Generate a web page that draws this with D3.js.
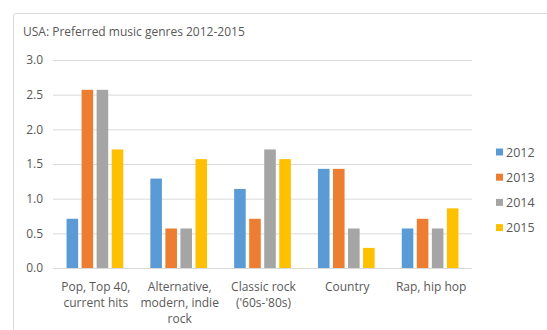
<!DOCTYPE html>
<html>
<head>
<meta charset="utf-8">
<script src="https://cdn.jsdelivr.net/npm/d3@7"></script>
<style>
  html, body { margin: 0; padding: 0; background: #fff; }
  svg { display: block; }
  text { font-family: "Open Sans", "Liberation Sans", sans-serif; fill: #595959; }
</style>
</head>
<body>
<svg id="chart" width="547" height="330"></svg>
<script>
// Genre categories (label lines) and yearly series values
const categories = [
  ["Pop, Top 40,", "current hits"],
  ["Alternative,", "modern, indie", "rock"],
  ["Classic rock", "('60s-'80s)"],
  ["Country"],
  ["Rap, hip hop"]
];
const years = ["2012", "2013", "2014", "2015"];
const values2012 = [0.71, 1.29, 1.14, 1.43, 0.57];
const values2013 = [2.57, 0.57, 0.71, 1.43, 0.71];
const values2014 = [2.57, 0.57, 1.71, 0.57, 0.57];
const values2015 = [1.71, 1.57, 1.57, 0.29, 0.86];
const yTicks = [0, 0.5, 1.0, 1.5, 2.0, 2.5, 3.0];
const title = "USA: Preferred music genres 2012-2015";

const series = [values2012, values2013, values2014, values2015];
const colors = ["#5B9BD5", "#ED7D31", "#A5A5A5", "#FFC000"];

const svg = d3.select("#chart");

// Outer chart frame
svg.append("rect")
  .attr("x", 13.5).attr("y", 13.5)
  .attr("width", 600).attr("height", 400)
  .attr("rx", 2)
  .attr("fill", "#fff")
  .attr("stroke", "#d9d9d9");

svg.append("text")
  .attr("x", 23).attr("y", 36)
  .attr("font-size", 12)
  .text(title);

const plot = { left: 53, right: 472, top: 60, bottom: 268 };

const y = d3.scaleLinear().domain([0, 3]).range([plot.bottom, plot.top]);
const x0 = d3.scaleBand()
  .domain(d3.range(categories.length))
  .range([plot.left, plot.right])
  .padding(0);
const x1 = d3.scaleBand()
  .domain(years)
  .range([0, x0.bandwidth()])
  .paddingInner(0.23)
  .paddingOuter(0.9);

// Gridlines and value axis
const yAxis = d3.axisLeft(y)
  .tickValues(yTicks)
  .tickFormat(d3.format(".1f"))
  .tickSize(-(plot.right - plot.left))
  .tickPadding(10);

const gy = svg.append("g")
  .attr("transform", `translate(${plot.left},0)`)
  .call(yAxis);
gy.select(".domain").remove();
gy.selectAll(".tick line").attr("stroke", "#d9d9d9").attr("stroke-width", 1);
gy.selectAll(".tick text")
  .attr("font-size", 12)
  .attr("fill", "#595959")
  .style("font-family", '"Open Sans", "Liberation Sans", sans-serif');

// Bars
const groups = svg.append("g").selectAll("g")
  .data(categories.map((c, i) => i))
  .join("g")
  .attr("transform", i => `translate(${x0(i)},0)`);

groups.selectAll("rect")
  .data(i => years.map((yr, s) => ({ yr, v: series[s][i], c: colors[s] })))
  .join("rect")
  .attr("x", d => x1(d.yr))
  .attr("width", x1.bandwidth())
  .attr("y", d => y(d.v))
  .attr("height", d => y(0) - y(d.v))
  .attr("fill", d => d.c);

// Category axis baseline
svg.append("line")
  .attr("x1", plot.left).attr("x2", plot.right)
  .attr("y1", y(0) + 0.5).attr("y2", y(0) + 0.5)
  .attr("stroke", "#d9d9d9");

// Category labels
const xl = svg.append("g").selectAll("text")
  .data(categories)
  .join("text")
  .attr("x", (c, i) => x0(i) + x0.bandwidth() / 2 + 1)
  .attr("y", 291)
  .attr("text-anchor", "middle")
  .attr("font-size", 12);
xl.selectAll("tspan")
  .data(c => c)
  .join("tspan")
  .attr("x", function () { return d3.select(this.parentNode).attr("x"); })
  .attr("dy", (d, i) => i === 0 ? 0 : 16)
  .text(d => d);

// Legend
const legend = svg.append("g").selectAll("g")
  .data(years)
  .join("g")
  .attr("transform", (d, i) => `translate(496,${152 + i * 25.2})`);
legend.append("rect")
  .attr("x", 0).attr("y", -3.5)
  .attr("width", 7).attr("height", 7)
  .attr("fill", (d, i) => colors[i]);
legend.append("text")
  .attr("x", 10).attr("y", 4.5)
  .attr("font-size", 12.5)
  .text(d => d);
</script>
</body>
</html>
